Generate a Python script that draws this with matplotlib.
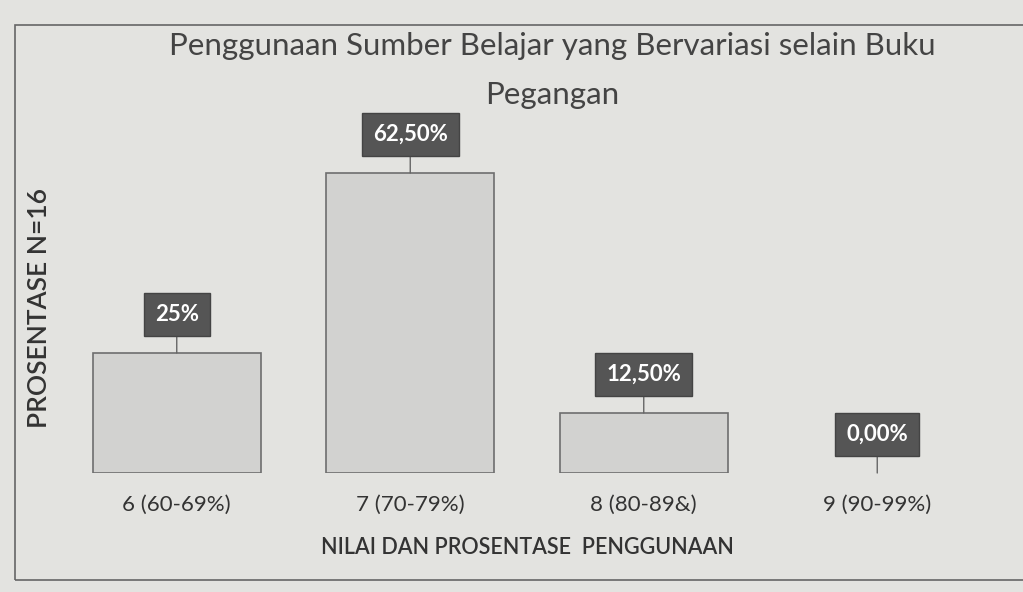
import matplotlib.pyplot as plt
from matplotlib.patches import Rectangle

categories = ['6 (60-69%)', '7 (70-79%)', '8 (80-89&)', '9 (90-99%)']
values = [25.0, 62.5, 12.5, 0.0]
value_labels = ['25%', '62,50%', '12,50%', '0,00%']

plt.rcParams['font.family'] = ['Lato', 'DejaVu Sans']

bg = '#e3e3e0'
fig = plt.figure(figsize=(10.23, 5.92), dpi=100, facecolor=bg)
ax = fig.add_axes([60 / 1023, 1 - 473 / 592, 934 / 1023, 336 / 592])
ax.set_facecolor(bg)

x = range(len(categories))
edges = ['#6e6e6e' if v > 0 else 'none' for v in values]
ax.bar(x, values, width=0.72, color='#d2d2d0', edgecolor=edges, linewidth=1.2)

for xi, v, lab in zip(x, values, value_labels):
    ax.annotate(lab, xy=(xi, v), xytext=(0, 28), textcoords='offset points',
                ha='center', va='center', color='white', fontsize=16, fontweight='bold',
                bbox=dict(boxstyle='square,pad=0.5', fc='#555555', ec='#444444'),
                arrowprops=dict(arrowstyle='-', color='#666666', lw=1, shrinkA=0, shrinkB=0))

ax.set_xlim(-0.5, 3.5)
ax.set_ylim(0, 70)
ax.set_xticks(list(x))
ax.set_xticklabels(categories, fontsize=16, color='#333333')
ax.tick_params(axis='x', length=0, pad=16)
ax.set_yticks([])
for s in ax.spines.values():
    s.set_visible(False)

fig.text(552 / 1023, 1 - 32 / 592, 'Penggunaan Sumber Belajar yang Bervariasi selain Buku\nPegangan',
         ha='center', va='top', fontsize=22.5, color='#444444', linespacing=1.9)
fig.text(40 / 1023, 1 - 308 / 592, 'PROSENTASE N=16', rotation=90, ha='center', va='center',
         fontsize=19, color='#333333', fontweight='semibold')
fig.text(527 / 1023, 1 - 548 / 592, 'NILAI DAN PROSENTASE  PENGGUNAAN', ha='center', va='center',
         fontsize=15.5, color='#333333', fontweight='semibold')

fig.patches.append(Rectangle((15 / 1023, 1 - 580 / 592), 1.1, 555 / 592, transform=fig.transFigure,
                             fill=False, ec='#666666', lw=1.2))

fig.savefig('out.png', dpi=100, facecolor=bg)
